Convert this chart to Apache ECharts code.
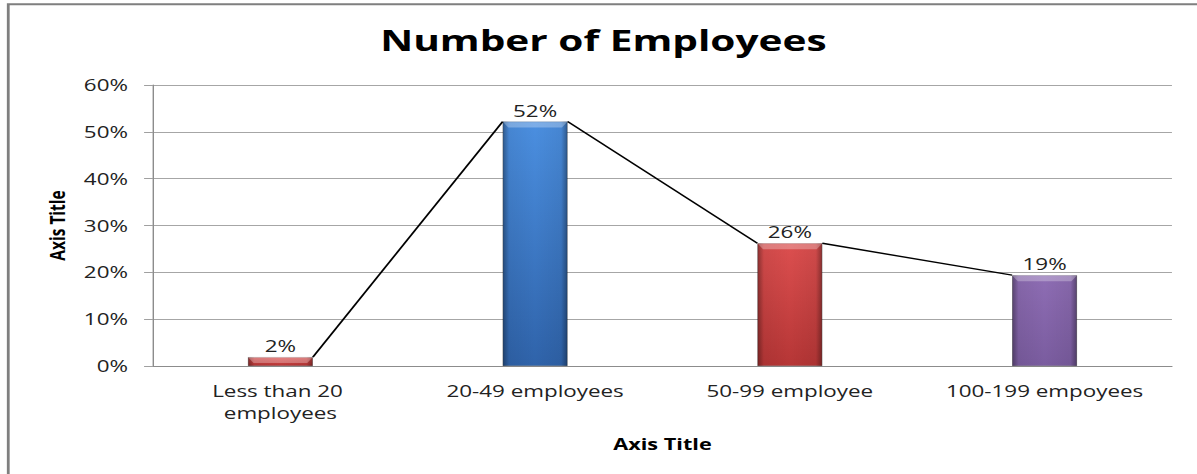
<!DOCTYPE html>
<html><head><meta charset="utf-8">
<script src="https://cdn.jsdelivr.net/npm/echarts@6/dist/echarts.min.js"></script>
<style>
html,body{margin:0;padding:0;background:#fff;overflow:hidden;}
#wrap{width:855px;height:474px;transform:scaleX(1.4);transform-origin:0 0;}
</style>
</head><body>
<div id="wrap"></div>
<script>
// ---- data ----
const categories = ['Less than 20 employees', '20-49 employees', '50-99 employee', '100-199 empoyees'];
const shares = [1.9, 52.2, 26.2, 19.4];
const yTicks = [0, 10, 20, 30, 40, 50, 60];
const chartTitle = 'Number of Employees';
const xAxisTitle = 'Axis Title';
const yAxisTitle = 'Axis Title';

// ---- styles ----
const FONT = "'Open Sans', sans-serif";
const barTop = ['#dc4f4f', '#4b8fe0', '#dc4f4f', '#8e6db4'];
const barBottom = ['#b63636', '#2f63aa', '#b63636', '#7a5c9f'];
const BAR_W = 0.255;

const chart = echarts.init(document.getElementById('wrap'), null, {renderer: 'svg'});

const barData = shares.map((v, i) => ({
  value: v,
  itemStyle: {
    color: new echarts.graphic.LinearGradient(0, 0, 0, 1, [
      {offset: 0, color: barTop[i]},
      {offset: 1, color: barBottom[i]}
    ]),
    borderColor: 'rgba(0,0,0,0.25)',
    borderWidth: 0.6
  }
}));

const linkData = shares.slice(0, -1).map((v, i) => [i, v, shares[i + 1]]);
const bevelData = shares.map((v, i) => [i, v]);

chart.setOption({
  animation: false,
  backgroundColor: '#fff',
  title: {
    text: chartTitle,
    left: 431,
    top: 25,
    padding: 0,
    textAlign: 'center',
    textStyle: {fontFamily: FONT, fontSize: 29, fontWeight: 'bold', color: '#000'}
  },
  graphic: [{
    type: 'rect',
    shape: {x: 5.9, y: 4.3, width: 900, height: 600},
    style: {fill: 'none', stroke: '#7f7f7f', lineWidth: 2},
    silent: true
  }],
  grid: {left: 109.3, right: 17.9, top: 85, bottom: 108, containLabel: false},
  xAxis: {
    type: 'category',
    data: categories,
    name: xAxisTitle,
    nameLocation: 'middle',
    nameGap: 70,
    nameTextStyle: {fontFamily: FONT, fontSize: 15.5, fontWeight: 'bold', color: '#000'},
    axisLine: {show: true, lineStyle: {color: '#8c8c8c', width: 1}},
    axisTick: {show: false},
    axisLabel: {
      fontFamily: FONT, fontSize: 16, color: '#222', margin: 14,
      lineHeight: 22, width: 158, overflow: 'break', interval: 0
    },
    splitLine: {show: false}
  },
  yAxis: {
    type: 'value',
    min: yTicks[0],
    max: yTicks[yTicks.length - 1],
    interval: yTicks[1] - yTicks[0],
    name: yAxisTitle,
    nameLocation: 'middle',
    nameRotate: 90,
    nameGap: 60,
    nameTextStyle: {fontFamily: FONT, fontSize: 15.5, fontWeight: 'bold', color: '#000'},
    axisLine: {show: true, lineStyle: {color: '#8c8c8c', width: 1}},
    axisTick: {show: true, length: 6.4, lineStyle: {color: '#a0a0a0'}},
    axisLabel: {fontFamily: FONT, fontSize: 16, color: '#222', margin: 17.9, formatter: '{value}%'},
    splitLine: {show: true, lineStyle: {color: '#a6a6a6', width: 1}}
  },
  series: [
    {
      type: 'bar',
      data: barData,
      barWidth: (BAR_W * 100) + '%',
      label: {
        show: true, position: 'top', distance: 3,
        fontFamily: FONT, fontSize: 16, color: '#222',
        formatter: p => Math.round(p.value) + '%'
      },
      z: 2
    },
    {
      type: 'bar',
      data: shares,
      barWidth: (BAR_W * 100) + '%',
      barGap: '-100%',
      silent: true,
      itemStyle: {
        color: new echarts.graphic.LinearGradient(0, 0, 1, 0, [
          {offset: 0, color: 'rgba(0,0,0,0.38)'},
          {offset: 0.1, color: 'rgba(0,0,0,0.06)'},
          {offset: 0.5, color: 'rgba(0,0,0,0)'},
          {offset: 0.9, color: 'rgba(0,0,0,0.06)'},
          {offset: 1, color: 'rgba(0,0,0,0.38)'}
        ])
      },
      z: 3
    },
    {
      type: 'custom',
      data: bevelData,
      encode: {x: 0, y: 1},
      silent: true,
      z: 4,
      renderItem: function (params, api) {
        const p = api.coord([api.value(0), api.value(1)]);
        const bw = api.size([1, 0])[0] * BAR_W;
        const base = api.coord([api.value(0), 0])[1];
        const h = Math.min(6, base - p[1]);
        const d = Math.min(4, bw / 2);
        return {
          type: 'polygon',
          shape: {points: [[p[0] - bw / 2, p[1]], [p[0] + bw / 2, p[1]], [p[0] + bw / 2 - d, p[1] + h], [p[0] - bw / 2 + d, p[1] + h]]},
          style: {fill: 'rgba(255,255,255,0.28)'}
        };
      }
    },
    {
      type: 'custom',
      data: linkData,
      encode: {x: 0, y: 1},
      silent: true,
      z: 5,
      renderItem: function (params, api) {
        const i = api.value(0);
        const p1 = api.coord([i, api.value(1)]);
        const p2 = api.coord([i + 1, api.value(2)]);
        const bw = api.size([1, 0])[0] * BAR_W;
        return {
          type: 'line',
          shape: {x1: p1[0] + bw / 2, y1: p1[1], x2: p2[0] - bw / 2, y2: p2[1]},
          style: {stroke: '#000', lineWidth: 1.4}
        };
      }
    }
  ]
});
</script>
</body></html>
